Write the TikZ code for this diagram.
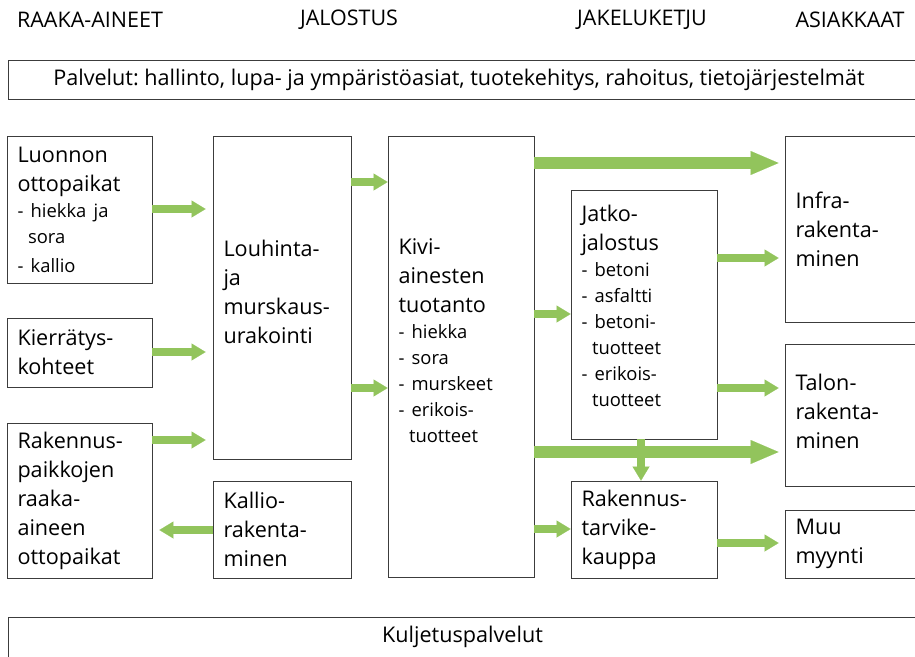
\documentclass[tikz,border=0pt]{standalone}
\usepackage{fontspec}
\setmainfont{Open Sans}
\usetikzlibrary{arrows.meta}
\definecolor{arrgreen}{RGB}{146,196,92}
\definecolor{boxline}{RGB}{60,60,60}
\newcommand{\mfont}{\fontsize{21.6}{29}\selectfont}
\newcommand{\lfont}{\fontsize{18.4}{26}\selectfont}
\newcommand{\ind}{\hspace*{10.5pt}}
\newcommand{\raiseby}[1]{\par\vspace*{#1}\hrule height 0pt width 0pt}
\frenchspacing
\begin{document}
\frenchspacing
\begin{tikzpicture}[x=1pt,y=-1pt,
  box/.style={draw=boxline, line width=0.9pt, inner xsep=10.5pt, inner ysep=0pt, align=left, font=\mfont},
  wbox/.style={draw=boxline, line width=0.9pt, inner sep=0pt, align=center, font=\mfont},
  hdr/.style={font=\fontsize{21.5}{24}\selectfont, inner sep=0pt},
  sarr/.style={draw=arrgreen, line width=8.5pt, -{Triangle[length=14pt,width=17pt,line width=0.01pt]}},
  barr/.style={draw=arrgreen, line width=12pt, -{Triangle[length=28pt,width=24pt,line width=0.01pt]}},
]
\useasboundingbox (0,0) rectangle (915,656);

% headers
\node[hdr] (hraaka) at (90,20) {RAAKA-AINEET};
\node[hdr] (hjal) at (349,20) {JALOSTUS};
\node[hdr] (hjak) at (642,20) {JAKELUKETJU};
\node[hdr] (hasi) at (850,20) {ASIAKKAAT};

% service bands
\node[wbox, minimum width=909pt, minimum height=39pt] (pal) at (462.5,79.5)
  {\hspace*{-7pt}Palvelut: hallinto, lupa- ja ympäristöasiat, tuotekehitys, rahoitus, tietojärjestelmät};
\node[wbox, minimum width=909pt, minimum height=40pt] (kul) at (462.5,637) {Kuljetuspalvelut};

% raw materials
\node[box, minimum width=145pt, text width=124pt, minimum height=147pt] (luon) at (79.5,209.5)
  {Luonnon\\ottopaikat\par\lfont - hiekka ja\\\ind sora\\- kallio};
\node[box, minimum width=145pt, text width=124pt, minimum height=69pt] (kier) at (79.5,352.5)
  {Kierrätys-\\kohteet};
\node[box, minimum width=145pt, text width=124pt, minimum height=155pt] (rpaik) at (79.5,500.5)
  {Rakennus-\\paikkojen\\raaka-\\aineen\\ottopaikat};

% processing
\node[box, minimum width=138pt, text width=117pt, minimum height=323pt] (louh) at (282,297.5)
  {Louhinta-\\ja\\murskaus-\\urakointi\raiseby{12pt}};
\node[box, minimum width=138pt, text width=117pt, minimum height=97pt] (kall) at (282,529.5)
  {Kallio-\\rakenta-\\minen};
\node[box, minimum width=146pt, text width=125pt, minimum height=441pt] (kivi) at (461,356.5)
  {Kivi-\\ainesten\\tuotanto\par\lfont - hiekka\\- sora\\- murskeet\\- erikois-\\\ind tuotteet\raiseby{32pt}};

% distribution
\node[box, minimum width=146pt, text width=125pt, minimum height=249pt] (jatk) at (644,314.5)
  {Jatko-\\jalostus\par\lfont - betoni\\- asfaltti\\- betoni-\\\ind tuotteet\\- erikois-\\\ind tuotteet\raiseby{18pt}};
\node[box, minimum width=146pt, text width=125pt, minimum height=97pt] (rtk) at (644,529.5)
  {Rakennus-\\tarvike-\\kauppa};

% customers
\node[box, minimum width=132pt, text width=111pt, minimum height=186pt] (infra) at (851,229)
  {Infra-\\rakenta-\\minen};
\node[box, minimum width=132pt, text width=111pt, minimum height=142pt] (talo) at (851,415)
  {Talon-\\rakenta-\\minen\raiseby{8pt}};
\node[box, minimum width=132pt, text width=111pt, minimum height=68pt] (muu) at (851,544)
  {Muu\\myynti};

% arrows
\draw[sarr, shorten >=7pt] (luon.east |- 0,209) -- (louh.west |- 0,209);
\draw[sarr, shorten >=7pt] (kier.east |- 0,352) -- (louh.west |- 0,352);
\draw[sarr, shorten >=7pt] (rpaik.east |- 0,440) -- (louh.west |- 0,440);
\draw[sarr, shorten >=7pt] (kall.west |- 0,530) -- (rpaik.east |- 0,530);
\draw[sarr] (louh.east |- 0,182) -- (kivi.west |- 0,182);
\draw[sarr] (louh.east |- 0,388) -- (kivi.west |- 0,388);
\draw[barr, shorten >=6pt] (kivi.east |- 0,163) -- (infra.west |- 0,163);
\draw[sarr] (kivi.east |- 0,314) -- (jatk.west |- 0,314);
\draw[barr, shorten >=6pt] (kivi.east |- 0,452) -- (talo.west |- 0,452);
\draw[sarr] (kivi.east |- 0,529) -- (rtk.west |- 0,529);
\draw[sarr, shorten >=6pt] (jatk.east |- 0,258) -- (infra.west |- 0,258);
\draw[sarr, shorten >=6pt] (jatk.east |- 0,388) -- (talo.west |- 0,388);
\draw[sarr] (jatk.south -| 641,0) -- (rtk.north -| 641,0);
\draw[sarr, shorten >=6pt] (rtk.east |- 0,543) -- (muu.west |- 0,543);
\end{tikzpicture}
\end{document}
